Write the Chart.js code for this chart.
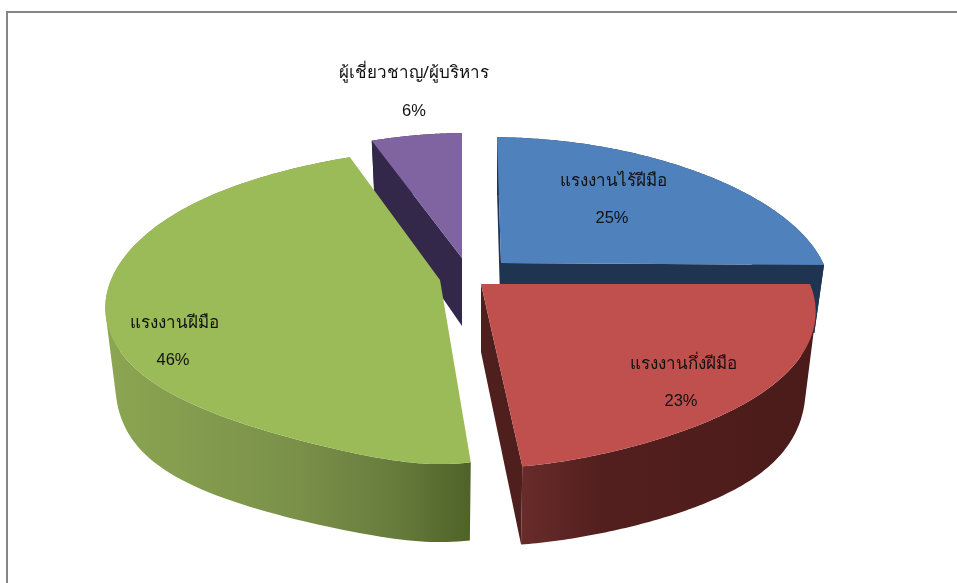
<!DOCTYPE html>
<html><head><meta charset="utf-8">
<style>
html,body{margin:0;padding:0;background:#fff;overflow:hidden;width:957px;height:583px}
#frame{position:absolute;left:6px;top:11px;width:1000px;height:700px;border:2px solid #868686;box-sizing:border-box}
#wrap{position:absolute;left:0;top:0;width:957px;height:583px}
</style>
<script src="https://cdn.jsdelivr.net/npm/chart.js@4"></script>
</head><body>
<div id="frame"></div>
<div id="wrap"><canvas id="c" width="957" height="583"></canvas></div>
<script>
const categories = ['แรงงานไร้ฝีมือ','แรงงานกึ่งฝีมือ','แรงงานฝีมือ','ผู้เชี่ยวชาญ/ผู้บริหาร'];
const values = [25, 23, 46, 6];
const topColors = ['#4f81bd','#c0504d','#9bbb59','#8064a2'];
const edgeColors = ['#1f3450','#4e1f1d','#4f6228','#33274a'];

// slice placement on the tilted plane (apex relative to the pie centre, radius, warp)
const sliceLook = [
  {dx:22.5, dy:-28.5, rx:323, gB:0,   gF:0,    sx:4, sy:2, ky:.977, walls:'both'},
  {dx:2.5,  dy:-7.5,  rx:329, gB:0,   gF:.165, sx:0, sy:0, ky:1,    walls:'end'},
  {dx:-38.5,dy:-11.5, rx:329, gB:.15, gF:.39,  sx:0, sy:0, ky:1.015,walls:''},
  {dx:-16.5,dy:-33.5, rx:325, gB:.13, gF:0,    sx:0, sy:0, ky:.97,  walls:'start'}
];
const drawOrder = [3,0,2,1];
const labelSpots = [
  {x:613,y:181,px:612,py:218},
  {x:683,y:364,px:681,py:401},
  {x:174,y:323,px:173,py:360},
  {x:414,y:73, px:414,py:111}
];
const wallStops = {
  1:[[522,'#682c2a'],[600,'#531f1e'],[820,'#4a1b1a']],
  2:[[110,'#8ba552'],[300,'#7a9049'],[400,'#667a3b'],[470,'#4f6228']]
};
const Q=.19, P=.177, RY=151.5, SINK=.97, DEPTH=68, DEPTHV=10, BUMP=12;

function project(arc,s,t){
  const u=Math.cos(t), v=Math.sin(t), g=v<0?s.gB:s.gF;
  return {
    x: arc.x+s.dx + s.rx*u*(1+Q*v)*(1-g*Math.pow(v,6)) + s.sx*v,
    y: arc.y+s.dy + (v<0?s.ky:1)*RY*v/(1-P*v) + s.sy*u,
    v
  };
}
function sink(arc,s,p){
  const cx=arc.x+s.dx, bump=p.v>0?BUMP*Math.sin(Math.PI*p.v):0;
  return {x:cx+(p.x-cx)*SINK, y:p.y+DEPTH+DEPTHV*p.v+bump};
}
function poly(ctx,pts,fill){
  ctx.beginPath();
  pts.forEach((p,i)=>i?ctx.lineTo(p.x,p.y):ctx.moveTo(p.x,p.y));
  ctx.closePath();
  ctx.fillStyle=fill; ctx.fill();
}
// outer wall as one path of same-handed quads, so folded parts never cancel out
function band(ctx,top,bot,fill){
  ctx.beginPath();
  for(let k=0;k<top.length-1;k++){
    let q=[top[k],top[k+1],bot[k+1],bot[k]], area=0;
    q.forEach((p,i)=>{const n=q[(i+1)%4];area+=p.x*n.y-n.x*p.y;});
    if(area<0) q=q.reverse();
    q.forEach((p,i)=>i?ctx.lineTo(p.x,p.y):ctx.moveTo(p.x,p.y));
    ctx.closePath();
  }
  ctx.fillStyle=fill; ctx.fill();
}
const pie3d = {
  id:'pie3d',
  beforeDatasetDraw(chart,args){
    const ctx=chart.ctx, meta=chart.getDatasetMeta(args.index);
    ctx.save();
    drawOrder.forEach(i=>{
      const arc=meta.data[i], s=sliceLook[i];
      const a0=arc.startAngle, a1=arc.endAngle, N=120, top=[];
      for(let k=0;k<=N;k++) top.push(project(arc,s,a0+(a1-a0)*k/N));
      const apex={x:arc.x+s.dx,y:arc.y+s.dy,v:0};
      const bApex=sink(arc,s,apex);
      const bot=top.map(p=>sink(arc,s,p));
      let fill=edgeColors[i];
      if(wallStops[i]){
        const st=wallStops[i], x0=st[0][0], x1=st[st.length-1][0];
        fill=ctx.createLinearGradient(x0,0,x1,0);
        st.forEach(q=>fill.addColorStop((q[0]-x0)/(x1-x0),q[1]));
      }
      band(ctx,top,bot,fill);
      if(s.walls==='start'||s.walls==='both') poly(ctx,[apex,top[0],bot[0],bApex],edgeColors[i]);
      if(s.walls==='end'||s.walls==='both') poly(ctx,[apex,top[N],bot[N],bApex],edgeColors[i]);
      poly(ctx,[apex].concat(top),topColors[i]);
    });
    ctx.restore();
    return false;
  },
  afterDatasetsDraw(chart){
    const ctx=chart.ctx, total=values.reduce((a,b)=>a+b,0);
    ctx.save();
    ctx.fillStyle='#111'; ctx.textAlign='center'; ctx.textBaseline='middle';
    categories.forEach((c,i)=>{
      const l=labelSpots[i];
      ctx.font='17px "Noto Sans","Liberation Sans",sans-serif';
      ctx.fillText(c,l.x,l.y);
      ctx.font='16.5px "Liberation Sans",sans-serif';
      ctx.fillText(Math.round(values[i]/total*100)+'%',l.px,l.py);
    });
    ctx.restore();
  }
};
new Chart(document.getElementById('c'),{
  type:'pie',
  data:{labels:categories,datasets:[{data:values,backgroundColor:topColors,borderWidth:0}]},
  options:{responsive:false,animation:false,plugins:{legend:{display:false},tooltip:{enabled:false}},layout:{padding:0}},
  plugins:[pie3d]
});
</script>
</body></html>
